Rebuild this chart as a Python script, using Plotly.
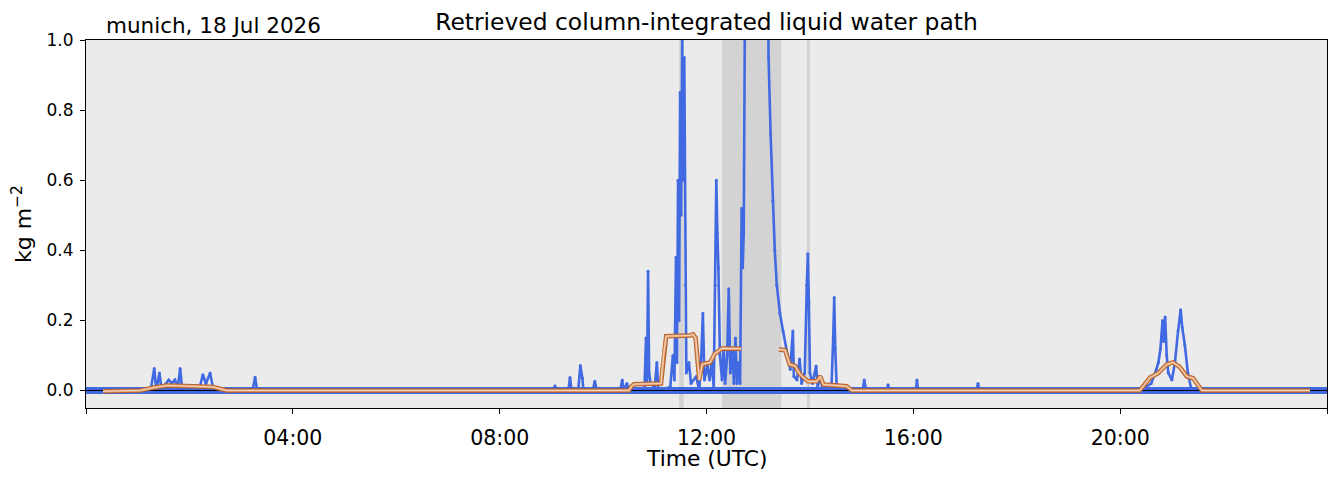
"""
Retrieved column-integrated liquid water path - single day time series
"""

import pandas as pd
import plotly.graph_objects as go

# ── Data ──────────────────────────────────────────────────────────────────────

DAY = pd.Timestamp("2026-07-18")

# retrieved LWP (kg m-2), hours since 00 UTC; values above 1 are off the chart
LWP_HOURS = [
    0.00, 1.25, 1.32, 1.36, 1.42, 1.46, 1.60, 1.66, 1.72, 1.78, 1.82, 1.86,
    2.20, 2.26, 2.32, 2.40, 2.46, 3.22, 3.27, 3.31, 9.02, 9.07, 9.12, 9.33,
    9.36, 9.39, 9.52, 9.56, 9.60, 9.62, 9.80, 9.84, 9.88, 10.33, 10.37, 10.40,
    10.46, 10.50, 10.80, 10.83, 10.85, 10.87, 10.89, 10.92, 11.00, 11.04, 11.07,
    11.30, 11.35, 11.38, 11.41, 11.43, 11.45, 11.47, 11.49, 11.51, 11.53, 11.55,
    11.57, 11.59, 11.61, 11.66, 11.70, 11.80, 11.86, 11.90, 11.93, 11.96, 12.02,
    12.06, 12.10, 12.14, 12.17, 12.19, 12.21, 12.23, 12.26, 12.30, 12.33, 12.36,
    12.40, 12.43, 12.46, 12.50, 12.53, 12.56, 12.59, 12.62, 12.65, 12.68, 12.70,
    12.72, 12.74, 12.76, 13.17, 13.20, 13.24, 13.28, 13.32, 13.36, 13.42, 13.48,
    13.55, 13.62, 13.67, 13.69, 13.75, 13.80, 13.84, 13.90, 13.94, 13.96, 13.98,
    14.00, 14.05, 14.12, 14.15, 14.20, 14.25, 14.42, 14.45, 14.47, 14.49, 14.52,
    15.02, 15.05, 15.09, 15.49, 15.51, 15.54, 16.05, 16.07, 16.09, 17.22, 17.25,
    17.28, 20.40, 20.60, 20.70, 20.74, 20.78, 20.82, 20.84, 20.87, 20.90, 20.93,
    21.00, 21.06, 21.12, 21.17, 21.20, 21.25, 21.31, 21.38, 24.00,
]
LWP_VALUES = [
    0.000, 0.000, 0.063, 0.000, 0.050, 0.005, 0.030, 0.020, 0.030, 0.010, 0.063, 0.005,
    0.010, 0.045, 0.020, 0.050, 0.005, 0.000, 0.038, 0.000, 0.000, 0.012, 0.000, 0.000,
    0.037, 0.000, 0.000, 0.071, 0.035, 0.000, 0.000, 0.026, 0.000, 0.000, 0.030, 0.000,
    0.020, 0.000, 0.000, 0.150, 0.020, 0.340, 0.050, 0.020, 0.010, 0.080, 0.000,
    0.010, 0.100, 0.030, 0.380, 0.080, 0.600, 0.200, 0.850, 0.500, 1.000, 0.600,
    0.950, 0.300, 0.050, 0.080, 0.020, 0.040, 0.000, 0.100, 0.220, 0.030, 0.070,
    0.030, 0.080, 0.010, 0.300, 0.600, 0.450, 0.350, 0.100, 0.030, 0.120, 0.020,
    0.100, 0.290, 0.050, 0.120, 0.020, 0.150, 0.020, 0.080, 0.020, 0.520, 0.350,
    0.450, 1.000, 1.500, 1.500, 0.950, 0.730, 0.540, 0.400, 0.300, 0.220, 0.170,
    0.110, 0.060, 0.170, 0.040, 0.030, 0.090, 0.020, 0.050, 0.300, 0.390, 0.250,
    0.050, 0.020, 0.070, 0.010, 0.040, 0.000, 0.020, 0.150, 0.265, 0.120, 0.000,
    0.000, 0.030, 0.000, 0.000, 0.016, 0.000, 0.000, 0.030, 0.000, 0.000, 0.020,
    0.000, 0.000, 0.020, 0.060, 0.080, 0.120, 0.200, 0.140, 0.210, 0.100, 0.050,
    0.030, 0.080, 0.170, 0.230, 0.180, 0.130, 0.050, 0.000, 0.000,
]

# smoothed LWP (kg m-2); None marks the gap during the flagged rain period
SMOOTH_HOURS = [
    0.33, 1.05, 1.30, 1.56, 2.07, 2.46, 2.72, 10.50, 10.55, 10.60, 11.12, 11.17,
    11.22, 11.68, 11.74, 11.79, 11.86, 11.92, 12.07, 12.16, 12.30, 12.67, 13.00,
    13.40, 13.52, 13.61, 13.71, 13.81, 13.96, 14.13, 14.20, 14.26, 14.39, 14.71,
    14.81, 20.38, 20.58, 20.74, 20.90, 21.02, 21.15, 21.29, 21.41, 21.58, 23.67,
]
SMOOTH_VALUES = [
    -0.002, 0.000, 0.008, 0.014, 0.012, 0.010, 0.000, 0.000, 0.012, 0.018, 0.020, 0.100,
    0.155, 0.157, 0.160, 0.150, 0.030, 0.075, 0.080, 0.105, 0.120, 0.119, None,
    0.117, 0.115, 0.074, 0.070, 0.046, 0.026, 0.026, 0.040, 0.017, 0.016, 0.012,
    0.000, 0.000, 0.037, 0.050, 0.074, 0.080, 0.067, 0.040, 0.035, 0.000, 0.000,
]

# flagged (rain) periods, hours since 00 UTC
FLAG_START = [11.47, 12.30, 13.94]
FLAG_END = [11.56, 13.45, 14.00]

SITE_LABEL = "munich, 18 Jul 2026"
X_TITLE = "Time (UTC)"
TICK_HOURS = [0, 4, 8, 12, 16, 20, 24]
TICK_TEXT = ["", "04:00", "08:00", "12:00", "16:00", "20:00", ""]
Y_TICKS = [0.0, 0.2, 0.4, 0.6, 0.8, 1.0]


def to_time(hours):
    """hours since midnight -> timestamps (None stays None)"""
    return [DAY + pd.Timedelta(hours=h) if h is not None else None for h in hours]


# ── Figure ────────────────────────────────────────────────────────────────────

FONT = "DejaVu Sans"
BLUE = "#4169e1"
FIG_W, FIG_H = 1331, 470   # page body adds an 8 px margin around the figure

fig = go.Figure()

# noise floor of the retrieval (dense band of points around zero)
fig.add_trace(go.Scatter(
    x=to_time([0, 24]), y=[0, 0], mode="lines",
    line=dict(color=BLUE, width=7), hoverinfo="skip", showlegend=False,
))

# retrieved LWP
fig.add_trace(go.Scatter(
    x=to_time(LWP_HOURS), y=LWP_VALUES, mode="lines+markers",
    line=dict(color=BLUE, width=2.6), marker=dict(color=BLUE, size=3),
    showlegend=False,
))

# zero line
fig.add_trace(go.Scatter(
    x=to_time([0, 24]), y=[0, 0], mode="lines",
    line=dict(color="black", width=1), hoverinfo="skip", showlegend=False,
))

# smoothed LWP: brown outline, orange body, light centre
smooth_x = to_time([h if v is not None else None for h, v in zip(SMOOTH_HOURS, SMOOTH_VALUES)])
for color, width in [("#b5602c", 4.5), ("#e2a071", 2.6), ("#fbe6d4", 0.8)]:
    fig.add_trace(go.Scatter(
        x=smooth_x, y=SMOOTH_VALUES, mode="lines", connectgaps=False,
        line=dict(color=color, width=width), hoverinfo="skip", showlegend=False,
    ))

# flagged periods as grey bands behind the data
for t0, t1 in zip(FLAG_START, FLAG_END):
    fig.add_shape(
        type="rect", xref="x", yref="paper",
        x0=to_time([t0])[0], x1=to_time([t1])[0], y0=0, y1=1,
        fillcolor="#d3d3d3", line_width=0, layer="below",
    )

fig.add_annotation(
    text=SITE_LABEL, xref="paper", yref="paper", x=0.0145, y=1,
    xanchor="left", yanchor="middle", yshift=15, showarrow=False,
    font=dict(family=FONT, size=21.5, color="black"),
)

# x-axis title as an annotation so its distance from the tick labels is exact
fig.add_annotation(
    text=X_TITLE, xref="paper", yref="paper", x=0.5, y=0,
    xanchor="center", yanchor="middle", yshift=-50, showarrow=False,
    font=dict(family=FONT, size=21.8, color="black"),
)

fig.update_layout(
    width=FIG_W, height=FIG_H,
    margin=dict(l=78, r=12, t=32, b=70, autoexpand=False),
    paper_bgcolor="white", plot_bgcolor="#ebebeb",
    font=dict(family=FONT, color="black"),
    title=dict(
        text="Retrieved column-integrated liquid water path",
        x=0.5, xref="paper", xanchor="center",
        y=1 - 14 / FIG_H, yanchor="middle",
        font=dict(family=FONT, size=23.4, color="black"),
    ),
    showlegend=False,
)

fig.update_xaxes(
    range=to_time([0, 24]), automargin=False,
    tickvals=to_time(TICK_HOURS), ticktext=TICK_TEXT,
    ticks="outside", ticklen=5, tickcolor="black", tickfont=dict(size=20.5),
    ticklabelstandoff=6,
    showline=True, linecolor="black", linewidth=1, mirror=True,
    showgrid=False, zeroline=False,
)

fig.update_yaxes(
    range=[-0.05, 1.0], automargin=False,
    tickvals=Y_TICKS, tickformat=".1f",
    ticks="outside", ticklen=5, tickcolor="black", tickfont=dict(size=17),
    ticklabelstandoff=3,
    showline=True, linecolor="black", linewidth=1, mirror=True,
    showgrid=False, zeroline=False,
    title=dict(text="kg m<sup>−2</sup>", font=dict(size=22), standoff=10),
)

fig.write_html("out.html", config={"displayModeBar": False})
